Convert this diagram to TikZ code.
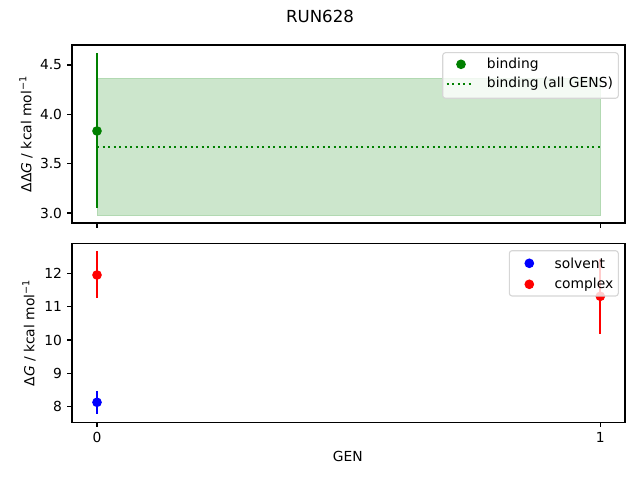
\documentclass[tikz,border=0pt]{standalone}
\usepackage{fontspec}
\setmainfont{DejaVu Sans}
\usepackage{xcolor}
\usepackage{tikz}
\usetikzlibrary{positioning}
\definecolor{mplgreen}{HTML}{008000}
\definecolor{bandgreen}{HTML}{CCE6CC}
\definecolor{framegray}{HTML}{D6D6D6}
\tikzset{%
  axes frame/.style={%
    line width=0.8pt,
    black
  }
}
\tikzset{%
  tick mark/.style={%
    line width=0.8pt
  }
}
\tikzset{%
  tick label/.style={%
    inner sep=0pt,
    font=\fontsize{10}{12}\selectfont
  }
}
\tikzset{%
  error bar/.style={%
    line width=1.5pt
  }
}
\tikzset{%
  data point/.style={%
    circle,
    inner sep=0pt,
    minimum size=7pt
  }
}
\tikzset{%
  all gens/.style={%
    line width=1.5pt,
    mplgreen,
    dash pattern=on 1.5pt off 2.475pt
  }
}
\tikzset{%
  legend frame/.style={%
    draw=framegray,
    line width=0.8pt,
    fill=white,
    fill opacity=0.8,
    rounded corners=2
  }
}
\tikzset{%
  legend text/.style={%
    anchor=west,
    inner sep=0pt,
    font=\fontsize{10}{12}\selectfont
  }
}

\begin{document}
\begin{tikzpicture}[x=0.01in, y=-0.01in]
  \useasboundingbox (0,0) rectangle (640,480);
  \node (title) at (320,16) {\fontsize{12}{14}\selectfont RUN628};
  % upper panel: binding
  \fill [bandgreen] (97,78) rectangle (600.3,215.3);
  \draw [mplgreen!30, line width=0.5pt] (97,78) rectangle (600.3,215.3);
  \coordinate (all0) at (97,146.7);
  \coordinate (all1) at (600.3,146.7);
  \draw [all gens] (all0) -- (all1);
  \coordinate (bindtop) at (97,53.3);
  \coordinate (bindbot) at (97,207.7);
  \draw [error bar, mplgreen] (bindtop) -- (bindbot);
  \node [data point, fill=mplgreen] (bind) at (97,131) {};
  \draw [axes frame] (72,45) rectangle (625,223);
  \foreach \y/\v in {213/3.0, 163.7/3.5, 114.3/4.0, 65/4.5} {
    \draw [tick mark] (72,\y) -- (67.1,\y);
    \node [tick label, anchor=east] at (62.3,\y) {\v};
  }
  \foreach \x in {97, 600.3} {
    \draw [tick mark] (\x,223) -- (\x,227.9);
  }
  \node [rotate=90, tick label] (ddglabel) at (26,134)
    {ΔΔ\textit{G} / kcal mol\textsuperscript{−1}};
  \draw [legend frame] (442.7,52.7) rectangle (618.3,98.3);
  \node [data point, fill=mplgreen] (keybind) at (461,64.3) {};
  \node [legend text] (txtbind) at (486.7,64.3) {binding};
  \coordinate (keyalla) at (446.7,84);
  \coordinate (keyallb) at (473.3,84);
  \draw [all gens] (keyalla) -- (keyallb);
  \node [legend text] (txtall) at (486.7,84) {binding (all GENS)};
  % lower panel: solvent and complex
  \coordinate (cpx0top) at (97,251);
  \coordinate (cpx0bot) at (97,297.7);
  \draw [error bar, red] (cpx0top) -- (cpx0bot);
  \node [data point, fill=red] (cpx0) at (97,275) {};
  \coordinate (sol0top) at (97,391);
  \coordinate (sol0bot) at (97,413.7);
  \draw [error bar, blue] (sol0top) -- (sol0bot);
  \node [data point, fill=blue] (sol0) at (97,402.3) {};
  \coordinate (cpx1top) at (600.3,259);
  \coordinate (cpx1bot) at (600.3,333.7);
  \draw [error bar, red] (cpx1top) -- (cpx1bot);
  \node [data point, fill=red] (cpx1) at (600.3,296.3) {};
  \draw [axes frame] (72,243.3) rectangle (625,422.3);
  \foreach \y/\v in {406.7/8, 373.3/9, 340/10, 306.6/11, 273.3/12} {
    \draw [tick mark] (72,\y) -- (67.1,\y);
    \node [tick label, anchor=east] at (62.3,\y) {\v};
  }
  \foreach \x/\v in {97/0, 600.3/1} {
    \draw [tick mark] (\x,422.3) -- (\x,427.2);
    \node [tick label, anchor=north] at (\x,432) {\v};
  }
  \node [tick label] (genlabel) at (347.7,456.7) {GEN};
  \node [rotate=90, tick label] (dglabel) at (29,333)
    {Δ\textit{G} / kcal mol\textsuperscript{−1}};
  \draw [legend frame] (509.3,250.7) rectangle (618.3,296);
  \node [data point, fill=blue] (keysol) at (529.3,263.3) {};
  \node [legend text] (txtsol) at (554.3,263.3) {solvent};
  \node [data point, fill=red] (keycpx) at (529.3,284.3) {};
  \node [legend text] (txtcpx) at (554.3,284.3) {complex};
\end{tikzpicture}
\end{document}
